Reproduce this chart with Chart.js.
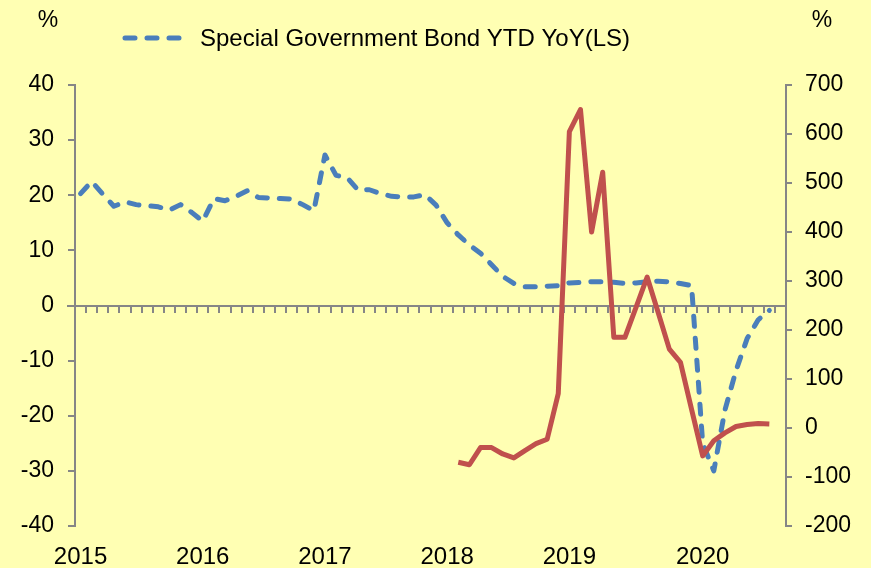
<!DOCTYPE html>
<html>
<head>
<meta charset="utf-8">
<script src="https://cdn.jsdelivr.net/npm/chart.js@4.4.1/dist/chart.umd.min.js"></script>
<style>
  html, body { margin: 0; padding: 0; background: #FFFFB3; }
  #chart { display: block; }
</style>
</head>
<body>
<canvas id="chart" width="871" height="568"></canvas>
<script>
/* ── Data (YTD, Jan merged into Feb except 2019) ── */
const months = [
  '2015-02','2015-03','2015-04','2015-05','2015-06','2015-07','2015-08','2015-09','2015-10','2015-11','2015-12',
  '2016-02','2016-03','2016-04','2016-05','2016-06','2016-07','2016-08','2016-09','2016-10','2016-11','2016-12',
  '2017-02','2017-03','2017-04','2017-05','2017-06','2017-07','2017-08','2017-09','2017-10','2017-11','2017-12',
  '2018-02','2018-03','2018-04','2018-05','2018-06','2018-07','2018-08','2018-09','2018-10','2018-11','2018-12',
  '2019-01','2019-02','2019-03','2019-04','2019-05','2019-06','2019-07','2019-08','2019-09','2019-10','2019-11','2019-12',
  '2020-02','2020-03','2020-04','2020-05','2020-06','2020-07','2020-08','2020-09'
];

const yearLabels = ['2015', '2016', '2017', '2018', '2019', '2020'];

// left scale, %
const specialBondYoY = [
  20.3, 22.5, 20.2, 18.0, 18.8, 18.3, 18.1, 17.9, 17.3, 18.3, 16.9,
  15.3, 19.4, 19.0, 19.8, 20.8, 19.6, 19.5, 19.4, 19.3, 18.3, 17.2,
  27.3, 23.6, 23.2, 20.9, 21.0, 20.3, 19.8, 19.7, 19.7, 20.1, 18.2,
  15.0, 12.8, 11.0, 9.5, 7.4, 5.3, 4.0, 3.4, 3.4, 3.5, 3.6,
  4.1, 4.2, 4.3, 4.3, 4.2, 4.0, 4.1, 4.3, 4.4, 4.3, 4.0, 3.6,
  -25.0, -30.0, -19.0, -11.8, -6.0, -2.6, -0.9, null
];

// right scale, %
const secondSeries = [
  null, null, null, null, null, null, null, null, null, null, null,
  null, null, null, null, null, null, null, null, null, null, null,
  null, null, null, null, null, null, null, null, null, null, null,
  null, -70, -75, -40, -40, -53, -61, -46, -32, -23, 70,
  605, 650, 400, 522, 185, 185, 246, 308, 235, 161, 134, 38,
  -57, -26, -10, 3, 7, 9, 8, null
];

const leftTicks  = { min: -40, max: 40, step: 10 };
const rightTicks = { min: -200, max: 700, step: 100 };

const AXIS_GREY = '#868686';
const BLUE = '#4A7EBB';
const RED  = '#C0504D';
const FAMILY = '"Liberation Sans", Arial, sans-serif';
const FONT = { family: FAMILY, size: 23 };

const yearAt = {};
yearLabels.forEach(y => {
  const idx = months.findIndex(m => m.startsWith(y));
  if (idx >= 0) yearAt[idx] = y;
});

/* ── zero line with monthly tick marks ── */
const zeroAxis = {
  id: 'zeroAxis',
  beforeDatasetsDraw(chart) {
    const { ctx, chartArea, scales } = chart;
    const x = scales.x, y = scales.yL;
    const y0 = Math.round(y.getPixelForValue(0));
    ctx.save();
    ctx.strokeStyle = AXIS_GREY;
    ctx.lineWidth = 2;
    ctx.beginPath();
    ctx.moveTo(chartArea.left - 8, y0);
    ctx.lineTo(chartArea.right, y0);
    for (let k = 1; k < months.length; k++) {
      const px = Math.round((x.getPixelForValue(k - 1) + x.getPixelForValue(k)) / 2);
      ctx.moveTo(px, y0);
      ctx.lineTo(px, y0 + 7);
    }
    ctx.stroke();
    ctx.restore();
  }
};

/* ── legend + unit labels ── */
const decor = {
  id: 'decor',
  afterDraw(chart) {
    const { ctx } = chart;
    ctx.save();
    ctx.fillStyle = '#000';
    ctx.font = `23px ${FAMILY}`;
    ctx.textBaseline = 'middle';
    ctx.textAlign = 'center';
    ctx.fillText('%', 48, 21);
    ctx.fillText('%', 822, 21);

    ctx.strokeStyle = BLUE;
    ctx.lineWidth = 5;
    ctx.lineCap = 'round';
    ctx.setLineDash([10, 12]);
    ctx.beginPath();
    ctx.moveTo(125, 38);
    ctx.lineTo(186, 38);
    ctx.stroke();

    ctx.font = `24px ${FAMILY}`;
    ctx.textAlign = 'left';
    ctx.fillText('Special Government Bond YTD YoY(LS)', 200, 39);
    ctx.restore();
  }
};

new Chart(document.getElementById('chart'), {
  type: 'line',
  data: {
    labels: months,
    datasets: [
      {
        label: 'Special Government Bond YTD YoY(LS)',
        data: specialBondYoY,
        yAxisID: 'yL',
        borderColor: BLUE,
        borderWidth: 5,
        borderDash: [10, 12],
        borderCapStyle: 'round',
        borderJoinStyle: 'round',
        pointRadius: 0,
        tension: 0,
        order: 1
      },
      {
        label: 'RS',
        data: secondSeries,
        yAxisID: 'yR',
        borderColor: RED,
        borderWidth: 5,
        borderJoinStyle: 'round',
        pointRadius: 0,
        tension: 0,
        order: 0
      }
    ]
  },
  options: {
    responsive: false,
    animation: false,
    events: [],
    layout: { padding: { top: 85, left: 0, right: 0, bottom: 0 } },
    plugins: {
      legend: { display: false },
      tooltip: { enabled: false }
    },
    scales: {
      x: {
        type: 'category',
        offset: true,
        grid: { display: false, drawTicks: false },
        border: { display: false },
        ticks: {
          autoSkip: false,
          maxRotation: 0,
          padding: 17,
          color: '#000',
          font: { family: FAMILY, size: 24 },
          callback: (v, i) => yearAt[i] || ''
        },
        afterFit: s => { s.height = 42; }
      },
      yL: {
        position: 'left',
        min: leftTicks.min,
        max: leftTicks.max,
        ticks: { stepSize: leftTicks.step, padding: 14, color: '#000', font: FONT },
        grid: { drawOnChartArea: false, tickLength: 7, color: AXIS_GREY, lineWidth: 2 },
        border: { color: AXIS_GREY, width: 2 },
        afterFit: s => { s.width = 75; }
      },
      yR: {
        position: 'right',
        min: rightTicks.min,
        max: rightTicks.max,
        ticks: { stepSize: rightTicks.step, padding: 13, color: '#000', font: FONT },
        grid: { drawOnChartArea: false, tickLength: 6, color: AXIS_GREY, lineWidth: 2 },
        border: { color: AXIS_GREY, width: 2 },
        afterFit: s => { s.width = 85; }
      }
    }
  },
  plugins: [zeroAxis, decor]
});
</script>
</body>
</html>
